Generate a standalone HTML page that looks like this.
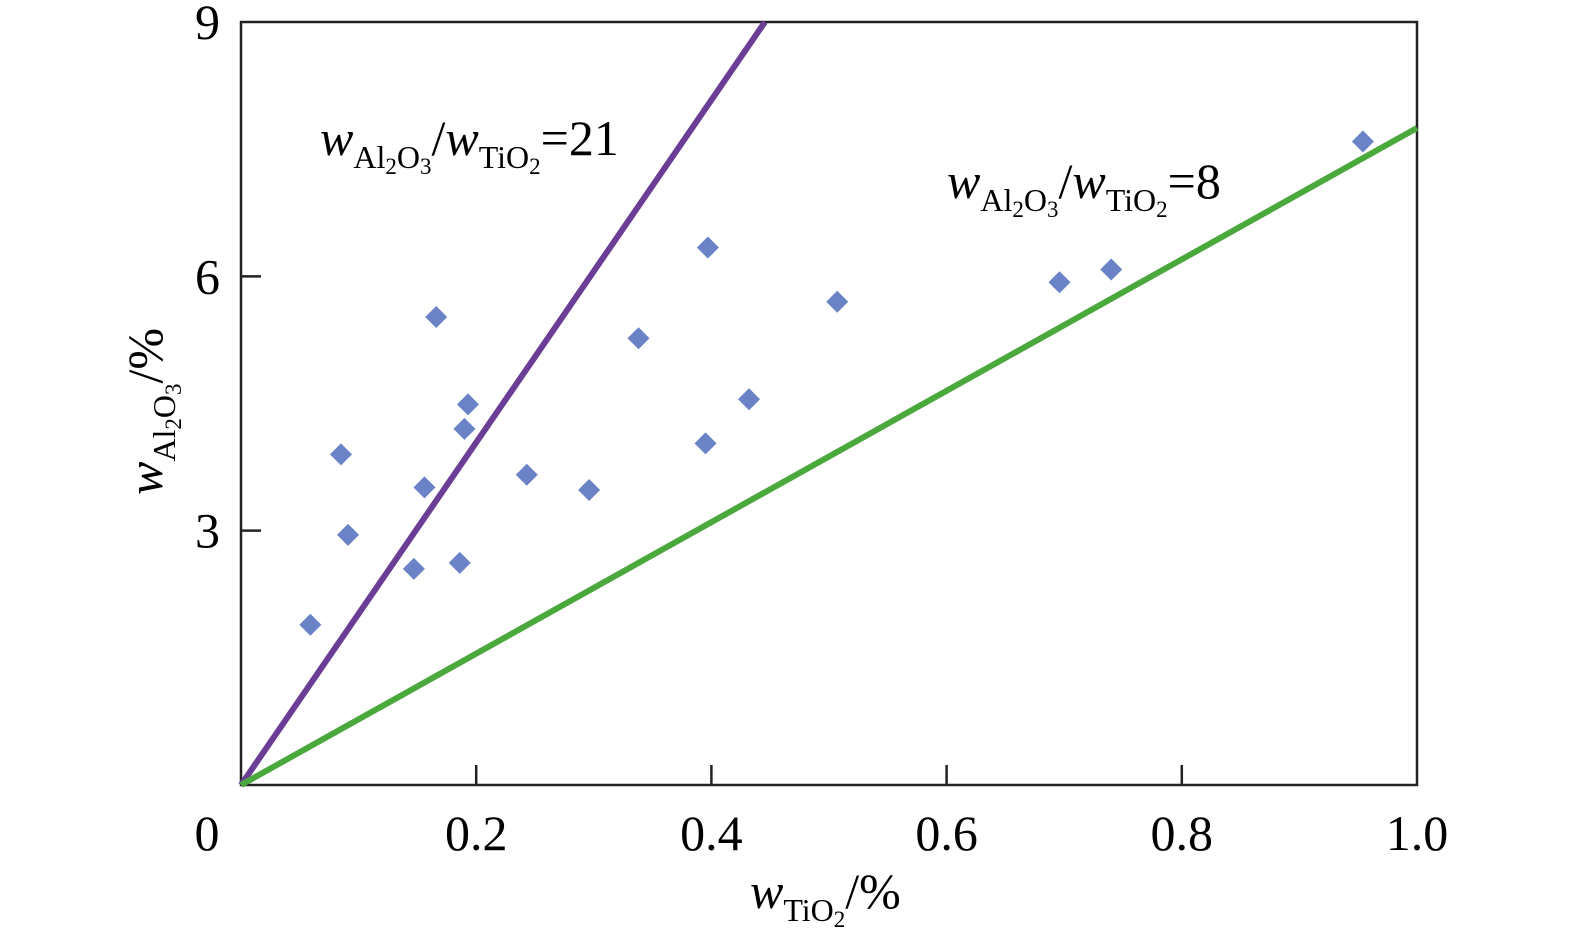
<!DOCTYPE html>
<html><head><meta charset="utf-8"><style>
html,body{margin:0;padding:0;background:#fff;}
svg{display:block;font-family:"Liberation Serif",serif;}
</style></head><body>
<svg id="chart" width="1575" height="949">
<rect x="241" y="22" width="1176" height="763" fill="none" stroke="#222" stroke-width="2.5"/>
<g id="ticks"></g>
<g id="lines"></g>
<g id="points"></g>
<text x="320" y="155" font-size="50" font-style="italic">w<tspan font-size="32" font-style="normal" dy="13">Al</tspan><tspan font-size="23" font-style="normal" dy="6">2</tspan><tspan font-size="32" font-style="normal" dy="-6">O</tspan><tspan font-size="23" font-style="normal" dy="6">3</tspan><tspan dy="-19" font-style="normal">/</tspan>w<tspan font-size="32" font-style="normal" dy="13">TiO</tspan><tspan font-size="23" font-style="normal" dy="6">2</tspan><tspan dy="-19" font-style="normal">=21</tspan></text>
<text x="947" y="198" font-size="50" font-style="italic">w<tspan font-size="32" font-style="normal" dy="13">Al</tspan><tspan font-size="23" font-style="normal" dy="6">2</tspan><tspan font-size="32" font-style="normal" dy="-6">O</tspan><tspan font-size="23" font-style="normal" dy="6">3</tspan><tspan dy="-19" font-style="normal">/</tspan>w<tspan font-size="32" font-style="normal" dy="13">TiO</tspan><tspan font-size="23" font-style="normal" dy="6">2</tspan><tspan dy="-19" font-style="normal">=8</tspan></text>
<text x="750" y="908" font-size="50" font-style="italic">w<tspan font-size="32" font-style="normal" dy="13">TiO</tspan><tspan font-size="23" font-style="normal" dy="6">2</tspan><tspan dy="-19" font-style="normal">/%</tspan></text>
<text transform="translate(162,495) rotate(-90)" font-size="50" font-style="italic">w<tspan font-size="32" font-style="normal" dy="13">Al</tspan><tspan font-size="23" font-style="normal" dy="6">2</tspan><tspan font-size="32" font-style="normal" dy="-6">O</tspan><tspan font-size="23" font-style="normal" dy="6">3</tspan><tspan dy="-19" font-style="normal">/%</tspan></text>
</svg>
<script>
const xs=[0.059,0.085,0.091,0.147,0.156,0.166,0.186,0.190,0.193,0.243,0.296,0.338,0.395,0.397,0.432,0.507,0.696,0.740,0.954];
const ys=[1.89,3.90,2.95,2.55,3.51,5.52,2.62,4.20,4.49,3.66,3.48,5.27,4.03,6.34,4.55,5.70,5.93,6.08,7.59];
const xTicks=[0.2,0.4,0.6,0.8];
const xTickLabels=["0","0.2","0.4","0.6","0.8","1.0"];
const xLabelVals=[0,0.2,0.4,0.6,0.8,1.0];
const yTicks=[3,6];
const yTickLabels=["3","6","9"];
const yLabelVals=[3,6,9];
const lineSlopes=[20.2,7.75];
const lineColors=["#6b3d96","#4aa83c"];
const X=v=>241+v*1176, Y=v=>785-v*(763/9);
const NS="http://www.w3.org/2000/svg";
function mk(t,a,p){const e=document.createElementNS(NS,t);for(const k in a)e.setAttribute(k,a[k]);p.appendChild(e);return e;}
const tg=document.getElementById('ticks');
xTicks.forEach(v=>{const e=mk('line',{x1:X(v),x2:X(v),y1:785,y2:765,stroke:'#222','stroke-width':2.5},tg);

});
yTicks.forEach(v=>{const e=mk('line',{x1:241,x2:261,y1:Y(v),y2:Y(v),stroke:'#222','stroke-width':2.5},tg);

});
xLabelVals.forEach((v,i)=>{const e=mk('text',{x:v===0?207:X(v),y:850,'font-size':50,'text-anchor':'middle'},tg);e.textContent=xTickLabels[i];

});
yLabelVals.forEach((v,i)=>{const e=mk('text',{x:220,y:Y(v)+17,'font-size':50,'text-anchor':'end'},tg);e.textContent=yTickLabels[i];

});
const lg=document.getElementById('lines');
lineSlopes.forEach((s,i)=>{const xe=Math.min(1,9/s);const e=mk('line',{x1:X(0),y1:Y(0),x2:X(xe),y2:Y(xe*s),stroke:lineColors[i],'stroke-width':6},lg);

});
const pg=document.getElementById('points');
xs.forEach((v,i)=>{const cx=X(v),cy=Y(ys[i]),r=11;const e=mk('polygon',{points:`${cx},${cy-r} ${cx+r},${cy} ${cx},${cy+r} ${cx-r},${cy}`,fill:'#6a82c6'},pg);

});
</script>
</body></html>
